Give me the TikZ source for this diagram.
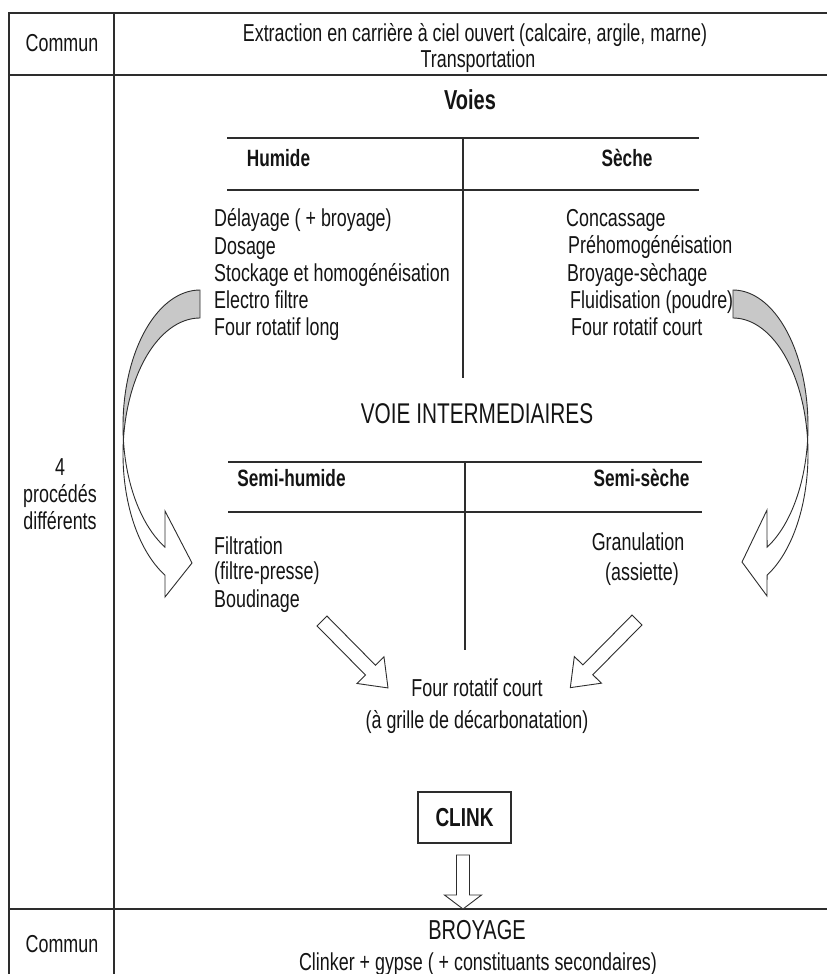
\documentclass[tikz,border=0pt]{standalone}
\usepackage{fontspec}
\setmainfont{Liberation Sans}[FakeStretch=0.73]
\definecolor{ln}{RGB}{45,45,45}
\definecolor{shade}{RGB}{200,200,200}
\definecolor{txt}{RGB}{20,20,20}
\newcommand\fsN{\fontsize{24.5}{29}\selectfont}
\newcommand\fsH{\fontsize{23.6}{28}\selectfont\bfseries}
\newcommand\fsV{\fontsize{27.4}{32}\selectfont\bfseries}
\newcommand\fsI{\fontsize{28.5}{33}\selectfont}
\newcommand\fsC{\fontsize{26}{31}\selectfont\bfseries}
\newcommand\fsB{\fontsize{27.4}{32}\selectfont}
\begin{document}
\begin{tikzpicture}[x=1pt,y=-1pt,line join=miter,
  tbl/.style={draw=ln,line width=1.6pt},
  rulel/.style={draw=ln,line width=1.4pt},
  lbl/.style={inner sep=0pt,text=txt,font=\fsN},
  hd/.style={inner sep=0pt,text=txt,font=\fsH},
  shp/.style={draw=ln,line width=0.9pt,fill=white},
  shd/.style={draw=ln,line width=0.9pt,fill=shade}]
\useasboundingbox (0,0) rectangle (827,974);
% table
\coordinate (tl) at (9,13);
\coordinate (tr) at (827,13);
\coordinate (bl) at (9,974);
\coordinate (dt) at (114,13);
\coordinate (db) at (114,974);
\coordinate (r1l) at (9,75);
\coordinate (r1r) at (827,75);
\coordinate (r2l) at (9,909);
\coordinate (r2r) at (827,909);
\draw[tbl] (bl) -- (tl) -- (tr);
\draw[tbl] (dt) -- (db);
\draw[tbl] (r1l) -- (r1r);
\draw[tbl] (r2l) -- (r2r);
% top row
\node[lbl,anchor=base] (com1) at (62,51.8) {Commun};
\node[lbl,anchor=base] (ext) at (475,41.8) {Extraction en carrière à ciel ouvert (calcaire, argile, marne)};
\node[lbl,anchor=base] (trans) at (478,67.8) {Transportation};
% voies
\node[inner sep=0pt,text=txt,font=\fsV,anchor=base] (voies) at (470,109.9) {Voies};
\coordinate (h1l) at (227,138); \coordinate (h1r) at (699,138);
\coordinate (h2l) at (227,190); \coordinate (h2r) at (699,190);
\coordinate (hvt) at (463,138); \coordinate (hvb) at (463,378);
\draw[rulel] (h1l) -- (h1r);
\draw[rulel] (h2l) -- (h2r);
\draw[rulel] (hvt) -- (hvb);
\node[hd,anchor=base] (humide) at (278.5,166.7) {Humide};
\node[hd,anchor=base] (seche) at (627,166.7) {Sèche};
\node[lbl,anchor=base west] (l1) at (214,226.8) {Délayage ( + broyage)};
\node[lbl,anchor=base west] (l2) at (214,254.8) {Dosage};
\node[lbl,anchor=base west] (l3) at (214,281.8) {Stockage et homogénéisation};
\node[lbl,anchor=base west] (l4) at (214,308.8) {Electro filtre};
\node[lbl,anchor=base west] (l5) at (214,335.8) {Four rotatif long};
\node[lbl,anchor=base west] (r1) at (566,226.8) {Concassage};
\node[lbl,anchor=base west] (r2) at (568,253.8) {Préhomogénéisation};
\node[lbl,anchor=base west] (r3) at (567,281.8) {Broyage-sèchage};
\node[lbl,anchor=base west] (r4) at (570,308.8) {Fluidisation (poudre)};
\node[lbl,anchor=base west] (r5) at (571,335.8) {Four rotatif court};
% intermediaires
\node[inner sep=0pt,text=txt,font=\fsI,anchor=base] (inter) at (477,423.3) {VOIE INTERMEDIAIRES};
\coordinate (s1l) at (228,462); \coordinate (s1r) at (702,462);
\coordinate (s2l) at (228,512); \coordinate (s2r) at (702,512);
\coordinate (svt) at (465,462); \coordinate (svb) at (465,650);
\draw[rulel] (s1l) -- (s1r);
\draw[rulel] (s2l) -- (s2r);
\draw[rulel] (svt) -- (svb);
\node[hd,anchor=base] (semih) at (291.5,486.7) {Semi-humide};
\node[hd,anchor=base] (semis) at (641.5,486.7) {Semi-sèche};
\node[lbl,anchor=base west] (f1) at (214,554.8) {Filtration};
\node[lbl,anchor=base west] (f2) at (214,579.8) {(filtre-presse)};
\node[lbl,anchor=base west] (f3) at (214,607.8) {Boudinage};
\node[lbl,anchor=base] (g1) at (638,550.8) {Granulation};
\node[lbl,anchor=base] (g2) at (642,580.8) {(assiette)};
\node[lbl,anchor=base] (four1) at (477,696.8) {Four rotatif court};
\node[lbl,anchor=base] (four2) at (477,728.8) {(à grille de décarbonatation)};
% left column
\node[lbl,anchor=base] (p1) at (60,475.8) {4};
\node[lbl,anchor=base] (p2) at (60,502.8) {procédés};
\node[lbl,anchor=base] (p3) at (60,529.8) {différents};
% clink
\node[draw=ln,line width=1.2pt,inner sep=0pt,minimum width=93pt,minimum height=51pt,text=txt,font=\fsC] (clink) at (464.5,817.5) {CLINK};
% bottom row
\node[lbl,anchor=base] (com2) at (62,952.8) {Commun};
\node[inner sep=0pt,text=txt,font=\fsB,anchor=base] (broy) at (477,939.9) {BROYAGE};
\node[lbl,anchor=base] (clinker) at (478,970.8) {Clinker + gypse ( + constituants secondaires)};
% left curved arrow
\draw[shd] plot[domain=-90:-185.9,samples=40] ({200+77*cos(\x)},{426+136*sin(\x)})
  -- plot[domain=-174.1:-90,samples=40] ({200+77*cos(\x)},{454+136*sin(\x)}) -- cycle;
\draw[shp] plot[domain=-185.9:-243,samples=40] ({200+77*cos(\x)},{426+136*sin(\x)})
  -- (165,511) -- (192,563) -- (165,597)
  -- plot[domain=-243:-174.1,samples=40] ({200+77*cos(\x)},{454+136*sin(\x)}) -- cycle;
% right curved arrow
\draw[shd] plot[domain=-90:-185.9,samples=40] ({733-75*cos(\x)},{426+136*sin(\x)})
  -- plot[domain=-174.1:-90,samples=40] ({733-75*cos(\x)},{454+136*sin(\x)}) -- cycle;
\draw[shp] plot[domain=-185.9:-243,samples=40] ({733-75*cos(\x)},{426+136*sin(\x)})
  -- (767,510) -- (742,562) -- (767,596)
  -- plot[domain=-243:-174.1,samples=40] ({733-75*cos(\x)},{454+136*sin(\x)}) -- cycle;
% diagonal block arrows
\draw[shp,shift={(322,621)},rotate=-45.4] (0,-7) -- (69,-7) -- (69,-19) -- (94,0) -- (69,19) -- (69,7) -- (0,7) -- cycle;
\draw[shp,shift={(637,620)},rotate=-134.6] (0,-7) -- (70,-7) -- (70,-19) -- (95,0) -- (70,19) -- (70,7) -- (0,7) -- cycle;
% down arrow
\draw[shp,shift={(463,855)},rotate=-90] (0,-6.5) -- (40,-6.5) -- (40,-18.5) -- (54,0) -- (40,18.5) -- (40,6.5) -- (0,6.5) -- cycle;
\end{tikzpicture}
\end{document}
